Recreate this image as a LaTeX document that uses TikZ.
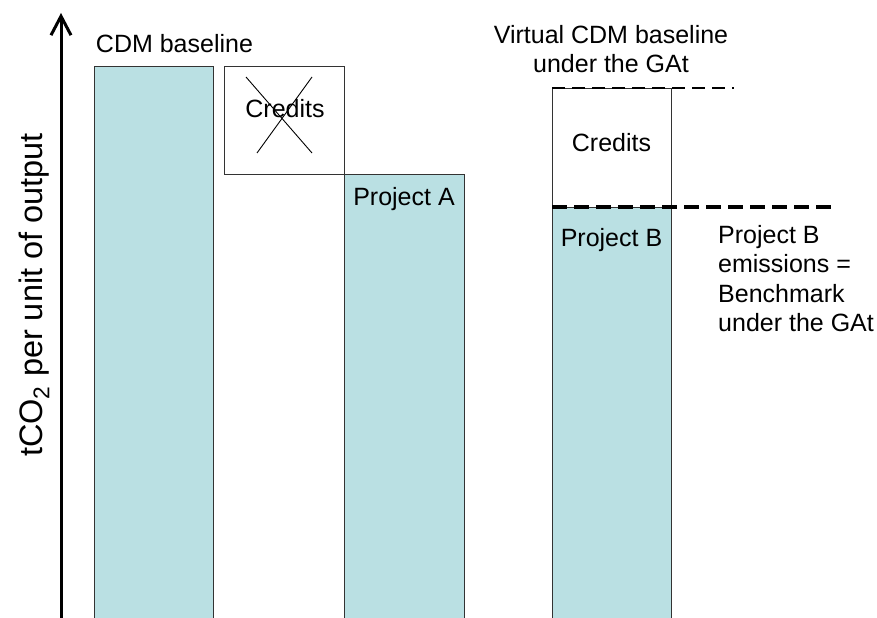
\documentclass[tikz,border=0pt]{standalone}
\usepackage{fontspec}
\setmainfont{Liberation Sans}
\usetikzlibrary{arrows.meta}
\definecolor{barfill}{HTML}{BAE0E3}
\definecolor{edgecol}{HTML}{333333}
\begin{document}
\begin{tikzpicture}[x=1bp,y=-1bp,
  bar/.style={draw=edgecol, line width=1.3bp, fill=barfill, inner sep=0, anchor=north west},
  creditbox/.style={draw=edgecol, line width=1.3bp, fill=white, inner sep=0, anchor=north west},
  lbl/.style={font=\fontsize{25bp}{30bp}\selectfont, inner sep=0, anchor=base},
  mlbl/.style={font=\fontsize{25bp}{29.5bp}\selectfont, inner sep=0},
  thindash/.style={line width=2.6bp, dash pattern=on 13bp off 7bp},
  thickdash/.style={line width=3.4bp, dash pattern=on 15bp off 7bp},
  crossline/.style={line width=0.9bp, draw=black}]
\useasboundingbox (0,0) rectangle (877,618);

% bars and boxes
\node[bar, minimum width=119bp, minimum height=556bp] (b1) at (94,66) {};
\node[creditbox, minimum width=120bp, minimum height=108bp] (c1) at (224,66) {};
\node[bar, minimum width=120bp, minimum height=446bp] (pa) at (344,174) {};
\node[creditbox, minimum width=119bp, minimum height=119bp] (c2) at (552,88) {};
\node[bar, minimum width=119bp, minimum height=413bp] (pb) at (552,207) {};

% crossed credits
\coordinate (x1) at (246,77);
\coordinate (x2) at (312,153);
\coordinate (x3) at (312,77);
\coordinate (x4) at (257,153);
\draw[crossline] (x1) -- (x2);
\draw[crossline] (x3) -- (x4);

% dashed lines
\coordinate (d1e) at (734,88);
\coordinate (d2e) at (834,207);
\draw[thindash] (c2.north west) -- (d1e);
\draw[thickdash] (pb.north west) -- (d2e);

% axis
\coordinate (ax0) at (61,622);
\coordinate (ax1) at (61,13);
\draw[line width=3bp, -{Straight Barb[length=19bp,width=20bp,line width=3bp]}] (ax0) -- (ax1);

% labels
\node[lbl] (t1) at (174.5,53) {CDM baseline};
\node[lbl] (t2) at (285,118) {Credits};
\node[lbl] (t3) at (404,206) {Project A};
\node[lbl] (t4) at (611.5,152) {Credits};
\node[lbl] (t5) at (611.5,247) {Project B};
\node[mlbl, align=center, anchor=north] (t6) at (611,25) {Virtual CDM baseline\\under the GAt};
\node[mlbl, align=left, anchor=north west] (t7) at (718,225) {Project B\\emissions =\\Benchmark\\under the GAt};
\node[font=\fontsize{32.5bp}{38bp}\selectfont, inner sep=0, anchor=base, rotate=90] (yl) at (42,295) {tCO\textsubscript{2} per unit of output};
\end{tikzpicture}
\end{document}
